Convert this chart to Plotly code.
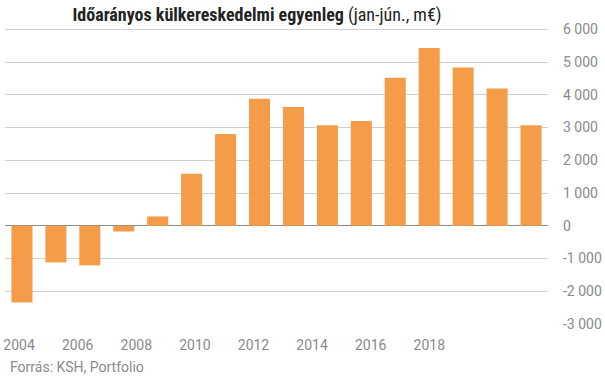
import plotly.graph_objects as go

years = list(range(2004, 2020))
balance = [-2340, -1120, -1210, -175, 285, 1590, 2800, 3880, 3630, 3070, 3200, 4520, 5430, 4830, 4190, 3070]

y_tickvals = [-3000, -2000, -1000, 0, 1000, 2000, 3000, 4000, 5000, 6000]
y_ticktext = ["-3 000", "-2 000", "-1 000", "0", "1 000", "2 000", "3 000", "4 000", "5 000", "6 000"]
x_tickvals = [2004, 2006, 2008, 2010, 2012, 2014, 2016, 2018]

title_bold = "Időarányos külkereskedelmi egyenleg"
title_rest = " (jan-jún., m€)"
source = "Forrás: KSH, Portfolio"

FONT = "Roboto"
GREY = "#8a8a8a"

fig = go.Figure()
fig.add_trace(go.Bar(x=years, y=balance, marker=dict(color="#F59C48", line=dict(width=0)),
                     width=0.62, hoverinfo="x+y"))
fig.add_trace(go.Scatter(x=[], y=[], xaxis="x2", yaxis="y", showlegend=False))

fig.update_layout(
    width=605, height=378,
    margin=dict(l=5, r=57, t=26, b=53),
    paper_bgcolor="white", plot_bgcolor="white",
    showlegend=False,
    font=dict(family=FONT, color=GREY, size=14),
    title=dict(
        text=f"<b>{title_bold}</b>{title_rest}",
        font=dict(family="Roboto Condensed, DejaVu Sans Condensed, Liberation Sans Narrow, Roboto", size=18, color="#222222"),
        x=257 / 605, xanchor="center", xref="container",
        y=1 - 15 / 378, yanchor="middle", yref="container",
        automargin=False,
    ),
    xaxis=dict(type="linear", range=[2003.5, 2019.5], showticklabels=False, automargin=False,
               showgrid=False, zeroline=False, showline=False, ticks=""),
    xaxis2=dict(type="linear", range=[2003.52, 2022.05], overlaying="x", side="bottom",
                tickvals=x_tickvals, ticktext=[str(v) for v in x_tickvals], automargin=False,
                showgrid=False, zeroline=False, showline=False, ticks="",
                tickfont=dict(family=FONT, size=14, color=GREY), ticklabelstandoff=10),
    yaxis=dict(range=[-3030, 6100], side="right", tickvals=y_tickvals, ticktext=y_ticktext,
               automargin=False,
               showgrid=True, gridcolor="#cfcfcf", gridwidth=1.3,
               zeroline=True, zerolinecolor="#8c8c8c", zerolinewidth=1.3,
               showline=False, ticks="", ticklabelstandoff=14,
               tickfont=dict(family=FONT, size=14, color=GREY)),
)
fig.add_annotation(text=source, xref="paper", yref="paper",
                   x=(8 - 5) / 543, y=-(367 - 325) / (325 - 26),
                   xanchor="left", yanchor="middle", showarrow=False,
                   font=dict(family=FONT, size=14, color=GREY))

fig.write_html("out.html", config={"displayModeBar": False},
               post_script="document.body.style.margin='0';document.body.style.padding='0';")
